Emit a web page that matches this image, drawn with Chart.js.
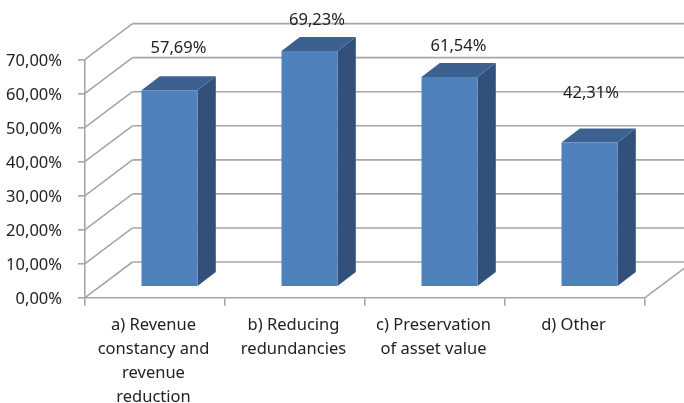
<!DOCTYPE html>
<html>
<head>
<meta charset="utf-8">
<style>html,body{margin:0;padding:0;background:#fff}canvas{display:block}</style>
<script src="https://cdn.jsdelivr.net/npm/chart.js@4"></script>
</head>
<body>
<div style="width:684px;height:403px"><canvas id="c" width="684" height="403"></canvas></div>
<script>
const categories = [
  ['a) Revenue', 'constancy and', 'revenue', 'reduction'],
  ['b) Reducing', 'redundancies'],
  ['c) Preservation', 'of asset value'],
  ['d) Other']
];
const seriesValues = [57.69, 69.23, 61.54, 42.31];
const yTicks = [0, 10, 20, 30, 40, 50, 60, 70];

const FONT = '"Noto Sans", sans-serif';
const GRID = '#a6a6a6';
const fmt = v => v.toFixed(2).replace('.', ',') + '%';

const wall = { dx: 47.5, dy: -35.7 };
const barFront = { dx: 14.5, dy: -11 };
const barDepth = { dx: 18.3, dy: -14 };
const labelShift = [[9, -42], [7.5, -31], [9, -31], [1.5, -49]];

function line(ctx, x1, y1, x2, y2) {
  ctx.beginPath(); ctx.moveTo(x1, y1); ctx.lineTo(x2, y2); ctx.stroke();
}
function poly(ctx, pts, fill) {
  ctx.fillStyle = fill; ctx.beginPath();
  pts.forEach((p, i) => i ? ctx.lineTo(p[0], p[1]) : ctx.moveTo(p[0], p[1]));
  ctx.closePath(); ctx.fill();
}

const box3d = {
  id: 'box3d',
  beforeDatasetsDraw(chart) {
    const { ctx, chartArea: a, scales: { y } } = chart;
    ctx.save();
    ctx.strokeStyle = GRID; ctx.lineWidth = 1.6;
    yTicks.forEach(v => {
      const py = y.getPixelForValue(v);
      line(ctx, a.left, py, a.left + wall.dx, py + wall.dy);
      line(ctx, a.left + wall.dx, py + wall.dy, a.right + wall.dx, py + wall.dy);
    });
    const p0 = y.getPixelForValue(0);
    line(ctx, a.right, p0, a.right + wall.dx, p0 + wall.dy);
    ctx.restore();
  },
  beforeDatasetDraw(chart, args) {
    const { ctx } = chart;
    ctx.save();
    ctx.translate(barFront.dx, barFront.dy);
    args.meta.data.forEach(b => {
      const l = b.x - b.width / 2, r = b.x + b.width / 2;
      const t = b.y, bt = b.base;
      const d = barDepth;
      poly(ctx, [[r, t], [r + d.dx, t + d.dy], [r + d.dx, bt + d.dy], [r, bt]], '#32507a');
      poly(ctx, [[l, t], [l + d.dx, t + d.dy], [r + d.dx, t + d.dy], [r, t]], '#3c6090');
    });
  },
  afterDatasetDraw(chart) {
    chart.ctx.restore();
  },
  afterDraw(chart) {
    const { ctx } = chart;
    const meta = chart.getDatasetMeta(0);
    ctx.save();
    ctx.font = '16.5px ' + FONT;
    ctx.fillStyle = '#222';
    ctx.textAlign = 'center';
    ctx.textBaseline = 'middle';
    meta.data.forEach((b, i) => {
      const s = labelShift[i];
      ctx.fillText(fmt(seriesValues[i]), b.x + s[0] + barFront.dx, b.y + s[1] + barFront.dy);
    });
    ctx.restore();
  }
};

new Chart(document.getElementById('c'), {
  type: 'bar',
  data: {
    labels: categories,
    datasets: [{
      data: seriesValues,
      backgroundColor: '#4f81bd',
      borderWidth: 0,
      barPercentage: 0.4,
      categoryPercentage: 1,
      clip: false
    }]
  },
  options: {
    responsive: false,
    animation: false,
    layout: { padding: { top: 59.3, right: 39, left: 0, bottom: 0 } },
    plugins: { legend: { display: false }, tooltip: { enabled: false }, title: { display: false } },
    scales: {
      x: {
        afterFit(s) { s.height = 403 - 297.7; },
        grid: { drawOnChartArea: false, drawTicks: true, tickLength: 8, color: GRID, lineWidth: 1.6, offset: true },
        border: { color: GRID, width: 1.6 },
        ticks: {
          color: '#222', maxRotation: 0, autoSkip: false, padding: 8, labelOffset: -1.5,
          font: { family: FONT, size: 16.5, lineHeight: 1.455 }
        }
      },
      y: {
        min: 0, max: 70,
        afterFit(s) { s.width = 85; },
        afterBuildTicks(s) { s.ticks = yTicks.map(v => ({ value: v })); },
        grid: { drawOnChartArea: false, drawTicks: true, tickLength: 7, color: GRID, lineWidth: 1.6 },
        border: { color: GRID, width: 1.6 },
        ticks: {
          color: '#222', padding: 16, labelOffset: 2,
          font: { family: FONT, size: 16.5 },
          callback: v => fmt(v)
        }
      }
    }
  },
  plugins: [box3d]
});
</script>
</body>
</html>
